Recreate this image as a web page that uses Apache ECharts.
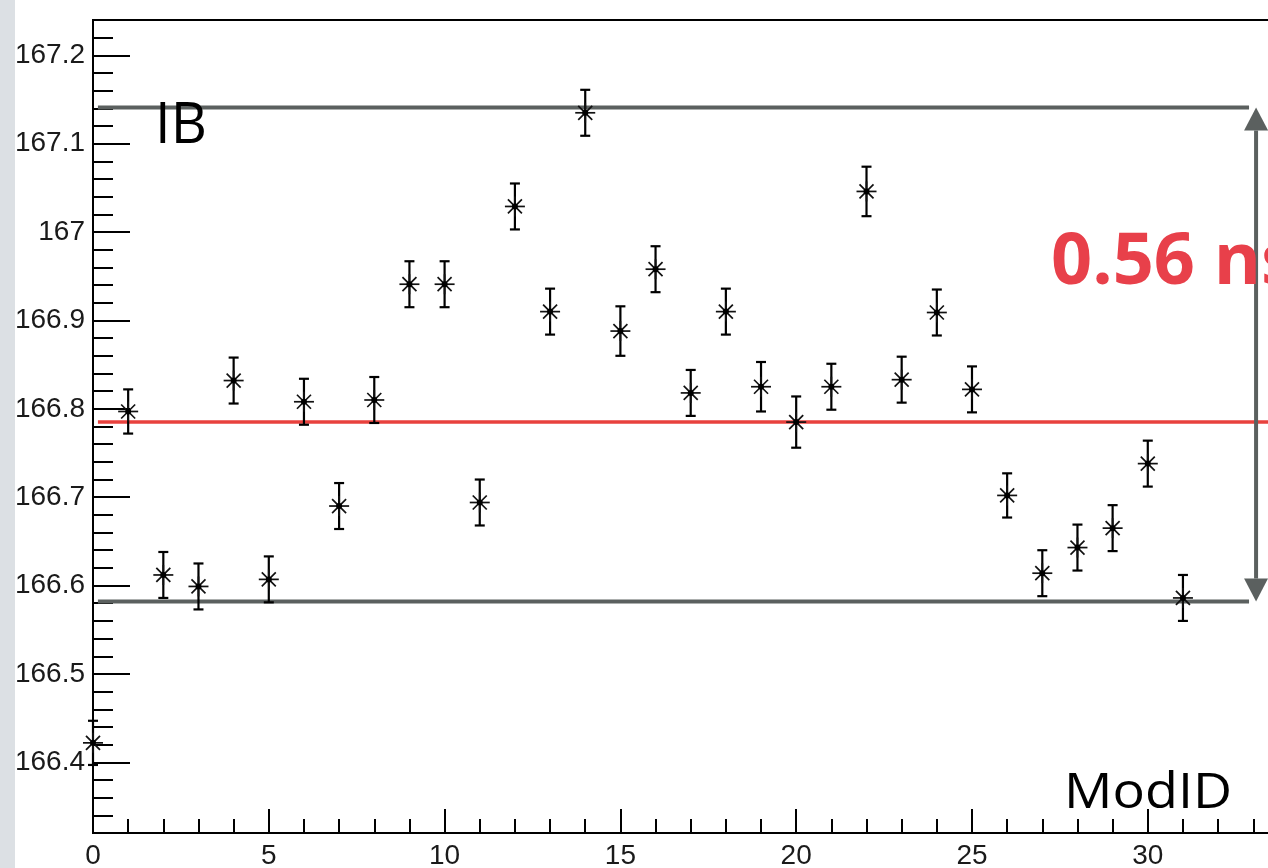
<!DOCTYPE html>
<html>
<head>
<meta charset="utf-8">
<script src="https://cdn.jsdelivr.net/npm/echarts@6/dist/echarts.min.js"></script>
<style>
  html, body { margin: 0; padding: 0; background: #fff; }
  #chart { width: 1268px; height: 868px; }
</style>
</head>
<body>
<div id="chart"></div>
<script>
// module ids and mean times (ns)
const modId = [0, 1, 2, 3, 4, 5, 6, 7, 8, 9, 10, 11, 12, 13, 14, 15,
  16, 17, 18, 19, 20, 21, 22, 23, 24, 25, 26, 27, 28, 29, 30, 31];
const meanTime = [166.422, 166.797, 166.612, 166.599, 166.832, 166.607, 166.808, 166.690,
  166.810, 166.941, 166.941, 166.694, 167.029, 166.910, 167.135, 166.888,
  166.958, 166.818, 166.910, 166.825, 166.785, 166.825, 167.046, 166.833,
  166.909, 166.822, 166.702, 166.614, 166.643, 166.665, 166.738, 166.586];
const errTime = [0.025, 0.025, 0.026, 0.026, 0.026, 0.026, 0.026, 0.026,
  0.026, 0.026, 0.026, 0.026, 0.026, 0.026, 0.026, 0.028,
  0.026, 0.026, 0.026, 0.028, 0.029, 0.026, 0.028, 0.026,
  0.026, 0.026, 0.025, 0.026, 0.026, 0.026, 0.026, 0.026];

// y tick values
const yMajor = [166.4, 166.5, 166.6, 166.7, 166.8, 166.9, 167, 167.1, 167.2];
const yMinor = [166.34, 166.36, 166.38, 166.42, 166.44, 166.46, 166.48,
  166.52, 166.54, 166.56, 166.58, 166.62, 166.64, 166.66, 166.68,
  166.72, 166.74, 166.76, 166.78, 166.82, 166.84, 166.86, 166.88,
  166.92, 166.94, 166.96, 166.98, 167.02, 167.04, 167.06, 167.08,
  167.12, 167.14, 167.16, 167.18, 167.22];

// reference levels
const ibTop = 167.141;
const ibBottom = 166.582;
const meanLevel = 166.785;
const lineStartX = 0.14;
const grayEndX = 32.88;
const redEndX = 34.5;
const arrowX = 33.08;

const chart = echarts.init(document.getElementById('chart'), null, { renderer: 'canvas' });

const gray = '#5b605f';

function renderPoint(params, api) {
  const x = api.value(0), y = api.value(1), e = api.value(2);
  const c = api.coord([x, y]);
  const hi = api.coord([x, y + e]);
  const lo = api.coord([x, y - e]);
  const bar = { stroke: '#000', lineWidth: 2.2 };
  const ast = { stroke: '#111', lineWidth: 1.7 };
  const cap = 5, arm = 10, d = 7;
  return {
    type: 'group',
    children: [
      { type: 'line', shape: { x1: c[0], y1: hi[1], x2: c[0], y2: lo[1] }, style: bar },
      { type: 'line', shape: { x1: c[0] - cap, y1: hi[1], x2: c[0] + cap, y2: hi[1] }, style: bar },
      { type: 'line', shape: { x1: c[0] - cap, y1: lo[1], x2: c[0] + cap, y2: lo[1] }, style: bar },
      { type: 'line', shape: { x1: c[0] - arm, y1: c[1], x2: c[0] + arm, y2: c[1] }, style: ast },
      { type: 'line', shape: { x1: c[0], y1: c[1] - arm, x2: c[0], y2: c[1] + arm }, style: ast },
      { type: 'line', shape: { x1: c[0] - d, y1: c[1] - d, x2: c[0] + d, y2: c[1] + d }, style: ast },
      { type: 'line', shape: { x1: c[0] - d, y1: c[1] + d, x2: c[0] + d, y2: c[1] - d }, style: ast },
      { type: 'circle', shape: { cx: c[0], cy: c[1], r: 3 }, style: { fill: '#000' } }
    ]
  };
}

function renderArrow(params, api) {
  const top = api.coord([api.value(0), api.value(1)]);
  const bot = api.coord([api.value(0), api.value(2)]);
  const h = 23, w = 12;
  return {
    type: 'group',
    children: [
      { type: 'line', shape: { x1: top[0], y1: top[1] + h, x2: bot[0], y2: bot[1] - h },
        style: { stroke: gray, lineWidth: 4 } },
      { type: 'polygon', shape: { points: [[top[0], top[1]], [top[0] - w, top[1] + h], [top[0] + w, top[1] + h]] },
        style: { fill: gray } },
      { type: 'polygon', shape: { points: [[bot[0], bot[1]], [bot[0] - w, bot[1] - h], [bot[0] + w, bot[1] - h]] },
        style: { fill: gray } }
    ]
  };
}

const labelFont = { fontFamily: 'Liberation Sans', fontSize: 28, color: '#1a1a1a' };

chart.setOption({
  animation: false,
  backgroundColor: '#fff',
  grid: {
    left: 93, top: 20, bottom: 35, right: -38,
    outerBoundsMode: 'none',
    show: true, borderColor: '#000', borderWidth: 2, backgroundColor: 'transparent'
  },
  xAxis: {
    type: 'value', min: 0, max: 34.5, interval: 5,
    axisLine: { show: true, onZero: false, lineStyle: { color: '#000', width: 2 } },
    axisTick: { show: true, inside: true, length: 24, lineStyle: { color: '#000', width: 2 } },
    minorTick: { show: true, splitNumber: 5, length: 14, lineStyle: { color: '#000', width: 2 } },
    axisLabel: Object.assign({ margin: 9 }, labelFont),
    splitLine: { show: false }
  },
  yAxis: [
    {
      type: 'value', min: 166.32, max: 167.24,
      axisLine: { show: true, lineStyle: { color: '#000', width: 2 } },
      axisTick: { show: true, inside: true, length: 37, customValues: yMajor,
        lineStyle: { color: '#000', width: 2 } },
      axisLabel: Object.assign({ margin: 8, customValues: yMajor }, labelFont),
      splitLine: { show: false }
    },
    {
      type: 'value', min: 166.32, max: 167.24, position: 'left',
      axisLine: { show: false },
      axisTick: { show: true, inside: true, length: 20, customValues: yMinor,
        lineStyle: { color: '#000', width: 2 } },
      axisLabel: { show: false },
      splitLine: { show: false }
    }
  ],
  series: [
    {
      type: 'line', data: [[lineStartX, meanLevel], [redEndX, meanLevel]],
      symbol: 'none', lineStyle: { color: '#e8413d', width: 3.5 }, z: 2, silent: true
    },
    {
      type: 'line', data: [[lineStartX, ibTop], [grayEndX, ibTop]],
      symbol: 'none', lineStyle: { color: gray, width: 4 }, z: 2, silent: true
    },
    {
      type: 'line', data: [[lineStartX, ibBottom], [grayEndX, ibBottom]],
      symbol: 'none', lineStyle: { color: gray, width: 4 }, z: 2, silent: true
    },
    {
      type: 'custom', renderItem: renderArrow, data: [[arrowX, ibTop, ibBottom]], z: 3, silent: true
    },
    {
      type: 'custom', renderItem: renderPoint, z: 4, clip: false,
      data: modId.map((m, i) => [m, meanTime[i], errTime[i]])
    }
  ],
  graphic: [
    { type: 'text', left: 155, top: 99, z: 10,
      style: { text: 'IB', font: '56px "Open Sans"', fill: '#000' } },
    { type: 'text', x: 1064, y: 770, scaleX: 1.1, z: 10,
      style: { text: 'ModID', font: '49px "Open Sans"', fill: '#000' } },
    { type: 'text', left: 1051, top: 227, z: 10,
      style: { text: '0.56 ns', font: 'bold 72px "Open Sans"', fill: '#e8404a' } },
    { type: 'rect', left: 0, top: 0, z: 20,
      shape: { width: 15, height: 868 }, style: { fill: '#dce0e4' } }
  ]
});
</script>
</body>
</html>
